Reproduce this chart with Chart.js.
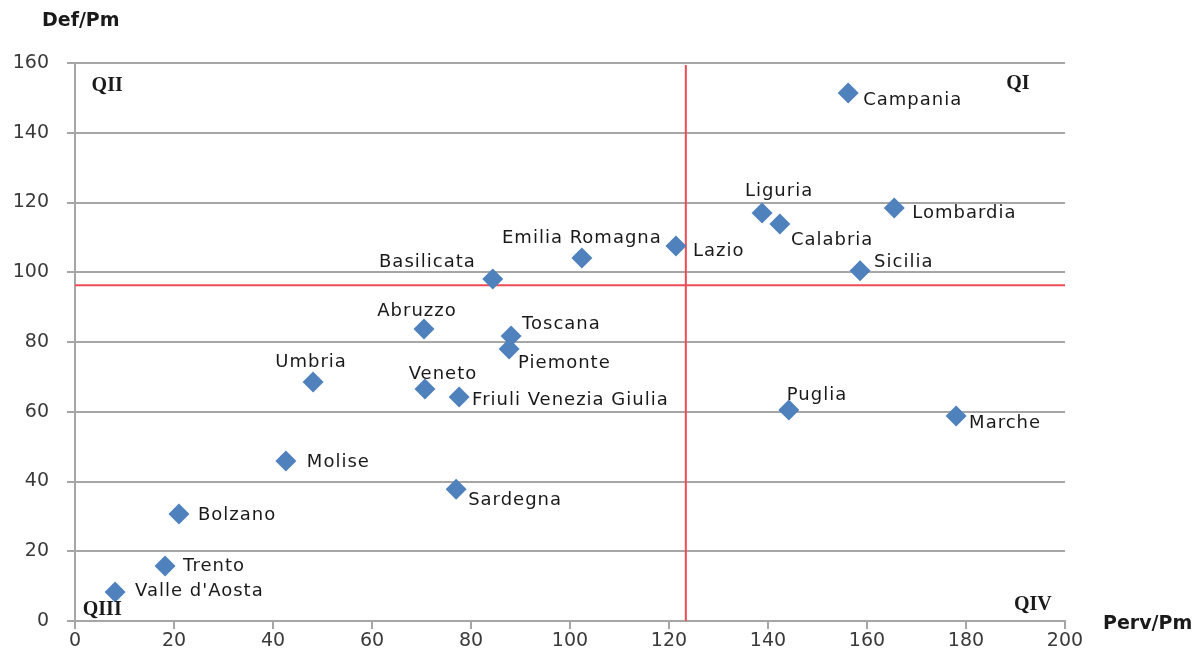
<!DOCTYPE html>
<html>
<head>
<meta charset="utf-8">
<script src="https://cdn.jsdelivr.net/npm/chart.js@4.4.1/dist/chart.umd.min.js"></script>
<style>
  html, body { margin: 0; padding: 0; background: #fff; }
  #wrap { width: 1200px; height: 664px; }
</style>
</head>
<body>
<div id="wrap"><canvas id="scatterChart" width="1200" height="664"></canvas></div>
<script>
// regions and their values
const regions = ['Campania', 'Lombardia', 'Liguria', 'Calabria', 'Lazio', 'Sicilia',
    'Emilia Romagna', 'Basilicata', 'Abruzzo', 'Toscana', 'Piemonte', 'Umbria',
    'Veneto', 'Friuli Venezia Giulia', 'Puglia', 'Marche', 'Molise', 'Sardegna',
    'Bolzano', 'Trento', "Valle d'Aosta"];
const pervPm = [156.2, 165.5, 138.8, 142.4, 121.4, 158.6, 102.4, 84.4, 70.5, 88.1, 87.7, 48.1,
    70.7, 77.6, 144.2, 178.0, 42.6, 77.0, 21.0, 18.2, 8.1];
const defPm = [151.4, 118.4, 117.0, 113.8, 107.5, 100.4, 104.1, 98.1, 83.7, 81.7, 78.0, 68.5,
    66.5, 64.2, 60.5, 58.8, 45.9, 37.8, 30.7, 15.8, 8.3];

// quadrant split lines
const meanPerv = 123.4;
const meanDef = 96.3;

// axis ticks
const xTicks = [0, 20, 40, 60, 80, 100, 120, 140, 160, 180, 200];
const yTicks = [0, 20, 40, 60, 80, 100, 120, 140, 160];

// quadrant names and where they sit (data coords)
const quadrantNames = ['QI', 'QII', 'QIII', 'QIV'];
const quadrantPos = [[190.5, 154], [6.5, 153.5], [5.5, 3.2], [193.5, 4.5]];

// label placement next to each point: [dx, dy, align]
const labelOffsets = [
    [15, 7, 'left'], [18, 5, 'left'], [17, -22, 'center'], [11, 16, 'left'], [17, 5, 'left'],
    [14, -9, 'left'], [0, -20, 'center'], [-17, -17, 'right'], [-7, -18, 'center'],
    [11, -12, 'left'], [9, 14, 'left'], [-2, -20, 'center'], [18, -15, 'center'],
    [13, 3, 'left'], [-2, -15, 'left'], [13, 7, 'left'], [21, 1, 'left'], [12, 11, 'left'],
    [19, 1, 'left'], [18, 0, 'left'], [20, -1, 'left']
];

const points = regions.map((r, i) => ({ x: pervPm[i], y: defPm[i] }));

// draws region names, quadrant names and the axis titles
const labelPlugin = {
    id: 'labelPlugin',
    afterDatasetsDraw(chart) {
        const ctx = chart.ctx;
        const xs = chart.scales.x;
        const ys = chart.scales.y;
        ctx.save();
        ctx.textBaseline = 'middle';
        ctx.fillStyle = '#1a1a1a';
        ctx.font = '18px "DejaVu Sans"';
        ctx.letterSpacing = '1px';
        regions.forEach((name, i) => {
            const [dx, dy, align] = labelOffsets[i];
            ctx.textAlign = align;
            ctx.fillText(name, xs.getPixelForValue(pervPm[i]) + dx, ys.getPixelForValue(defPm[i]) + dy);
        });
        ctx.letterSpacing = '0px';

        ctx.font = 'bold 20px "Liberation Serif"';
        ctx.textAlign = 'center';
        quadrantNames.forEach((q, i) => {
            ctx.fillText(q, xs.getPixelForValue(quadrantPos[i][0]), ys.getPixelForValue(quadrantPos[i][1]));
        });

        ctx.font = 'bold 19px "DejaVu Sans"';
        ctx.textAlign = 'left';
        ctx.fillText('Def/Pm', 42, 21);
        ctx.fillText('Perv/Pm', 1103, 624);
        ctx.restore();
    }
};

const ctx = document.getElementById('scatterChart').getContext('2d');
const scatterChart = new Chart(ctx, {
    type: 'scatter',
    data: {
        datasets: [{
            label: 'Regioni',
            data: points,
            pointStyle: 'rectRot',
            pointRadius: 10.5,
            pointHoverRadius: 10.5,
            backgroundColor: '#4f81bd',
            borderColor: '#4f81bd',
            borderWidth: 0,
            order: 1
        }, {
            label: 'Perv media',
            data: [{ x: meanPerv, y: 0 }, { x: meanPerv, y: 159.4 }],
            showLine: true,
            pointRadius: 0,
            borderColor: '#f04b55',
            borderWidth: 2,
            order: 2
        }, {
            label: 'Def media',
            data: [{ x: 0, y: meanDef }, { x: 200, y: meanDef }],
            showLine: true,
            pointRadius: 0,
            borderColor: '#f04b55',
            borderWidth: 2,
            order: 2
        }]
    },
    options: {
        responsive: false,
        animation: false,
        layout: { padding: { top: 63, right: 135, left: 0, bottom: 0 } },
        plugins: {
            legend: { display: false },
            tooltip: { enabled: false }
        },
        scales: {
            x: {
                type: 'linear',
                min: 0,
                max: 200,
                afterBuildTicks: scale => { scale.ticks = xTicks.map(v => ({ value: v })); },
                afterFit: scale => { scale.height = 43; },
                border: { color: '#a6a6a6', width: 2 },
                grid: { drawOnChartArea: false, color: '#a6a6a6', lineWidth: 2, tickLength: 8 },
                ticks: { color: '#3a3a3a', font: { family: 'DejaVu Sans', size: 19 }, padding: 1, maxRotation: 0 }
            },
            y: {
                type: 'linear',
                min: 0,
                max: 160,
                afterBuildTicks: scale => { scale.ticks = yTicks.map(v => ({ value: v })); },
                afterFit: scale => { scale.width = 75; },
                border: { color: '#a6a6a6', width: 2 },
                grid: { color: '#a6a6a6', lineWidth: 2, tickLength: 8 },
                ticks: { color: '#3a3a3a', font: { family: 'DejaVu Sans', size: 19 }, padding: 18 }
            }
        }
    },
    plugins: [labelPlugin]
});
</script>
</body>
</html>
